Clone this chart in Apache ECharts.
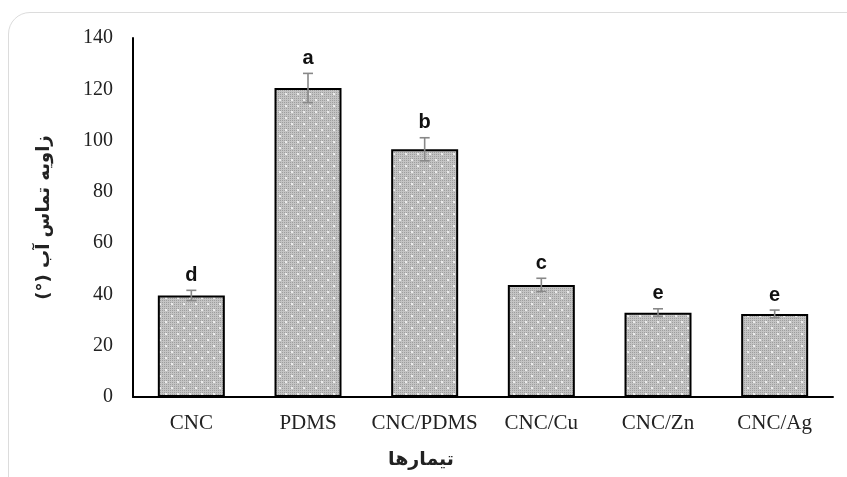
<!DOCTYPE html>
<html><head><meta charset="utf-8">
<script src="https://cdn.jsdelivr.net/npm/echarts@6/dist/echarts.min.js"></script>
<style>
html,body{margin:0;padding:0;background:#fff;overflow:hidden;}
#frame{position:absolute;left:8px;top:12px;width:900px;height:520px;border:1.5px solid #dcdcdc;border-radius:22px;box-sizing:border-box;}
#c{position:absolute;left:0;top:0;width:847px;height:477px;}
</style></head>
<body>
<div id="frame"></div>
<div id="c"></div>
<script>
const categories = ['CNC','PDMS','CNC/PDMS','CNC/Cu','CNC/Zn','CNC/Ag'];
const values = [39.6, 120.5, 96.6, 43.7, 32.9, 32.4];
const errors = [2.0, 5.7, 4.5, 2.6, 1.5, 1.5];
const letters = ['d','a','b','c','e','e'];
const yTicks = [0,20,40,60,80,100,120,140];
const yTitle = '\u202Bزاویه تماس آب (°)\u202C';
const xTitle = 'تیمارها';

function makePattern(){
  const c = document.createElement('canvas');
  c.width = 12; c.height = 12;
  const g = c.getContext('2d');
  g.fillStyle = '#c4c4c4'; g.fillRect(0,0,12,12);
  g.fillStyle = '#9e9e9e';
  for(let x=0;x<12;x+=2){for(let y=0;y<12;y+=2){g.fillRect(x,y,1,1);}}
  g.fillStyle = '#ececec';
  g.fillRect(3,3,2,2); g.fillRect(9,9,2,2);
  return c;
}

const chart = echarts.init(document.getElementById('c'));
chart.setOption({
  animation:false,
  grid:{left:133,right:14,top:38,bottom:80},
  xAxis:{
    type:'category', data:categories,
    axisLine:{lineStyle:{color:'#000',width:2}},
    axisTick:{show:false},
    axisLabel:{color:'#222',fontFamily:'Liberation Serif',fontSize:21,margin:16,interval:0,hideOverlap:false}
  },
  yAxis:{
    type:'value', min:0, max:140, interval:20,
    axisLine:{show:true,lineStyle:{color:'#000',width:2}},
    axisTick:{show:false},
    splitLine:{show:false},
    axisLabel:{color:'#222',fontFamily:'Liberation Serif',fontSize:20,margin:20,
      formatter:v=>yTicks.includes(v)?String(v):''},
    name:yTitle, nameLocation:'middle', nameGap:80, nameRotate:90,
    nameTextStyle:{color:'#222',fontFamily:'DejaVu Sans',fontWeight:'bold',fontSize:18}
  },
  graphic:[{type:'text',left:388,top:451,
    style:{text:xTitle,fill:'#222',font:'bold 19px "DejaVu Sans"'}}],
  series:[
    {type:'bar', data:values, barWidth:67,
     itemStyle:{color:{image:makePattern(),repeat:'repeat'},borderColor:'#000',borderWidth:2}},
    {type:'custom', data:values.map((v,i)=>[i,v,errors[i]]),
     renderItem:function(params,api){
       const i=api.value(0), v=api.value(1), e=api.value(2);
       const top=api.coord([i,v+e]), bot=api.coord([i,v-e]);
       const x=top[0], cw=5;
       const st={stroke:'#888',lineWidth:1.6};
       return {type:'group',children:[
         {type:'line',shape:{x1:x,y1:top[1],x2:x,y2:bot[1]},style:st},
         {type:'line',shape:{x1:x-cw,y1:top[1],x2:x+cw,y2:top[1]},style:st},
         {type:'line',shape:{x1:x-cw,y1:bot[1],x2:x+cw,y2:bot[1]},style:st},
         {type:'text',x:x,y:top[1]-5,style:{text:letters[i],fill:'#111',
           font:'bold 20px "Liberation Sans"',textAlign:'center',textVerticalAlign:'bottom'}}
       ]};
     }, z:5}
  ]
});
</script>
</body></html>
